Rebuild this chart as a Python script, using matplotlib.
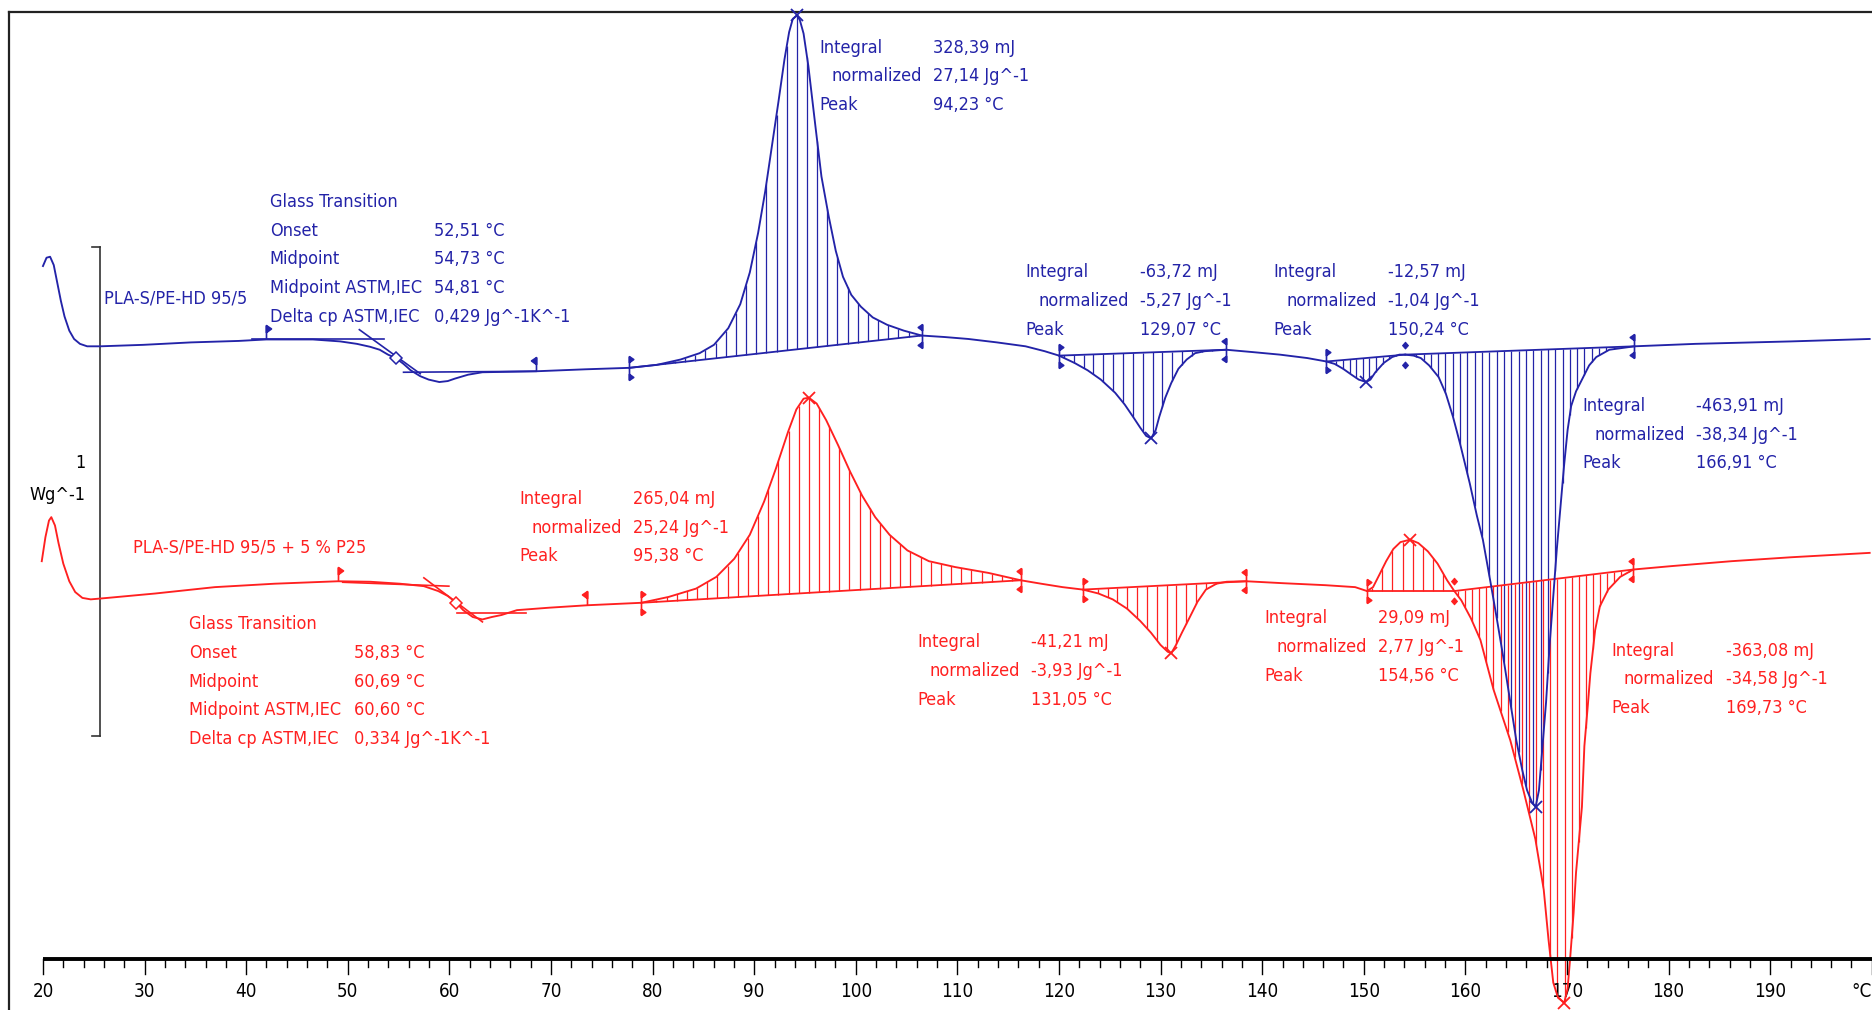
import numpy as np
import matplotlib
matplotlib.use("Agg")
import matplotlib.pyplot as plt
from matplotlib.path import Path
import matplotlib.font_manager as fm

# ---------------- data (temperature in °C, heat flow in W/g, offset curves) ----------------
blue_curve = [
    (20.0, 1.415), (20.35, 1.432), (20.7, 1.434), (21.06, 1.417), (21.41, 1.380), (21.76, 1.344),
    (22.12, 1.312), (22.59, 1.283), (23.06, 1.266), (23.64, 1.256), (24.35, 1.251), (25.64, 1.251),
    (29.87, 1.254), (34.57, 1.259), (39.27, 1.262), (41.98, 1.265), (46.56, 1.265), (49.26, 1.261),
    (50.9, 1.256), (52.2, 1.250), (53.14, 1.244), (53.96, 1.234), (54.73, 1.227), (55.49, 1.215),
    (56.19, 1.202), (57.13, 1.190), (57.96, 1.183), (59.01, 1.178), (59.84, 1.180), (60.54, 1.185),
    (61.84, 1.193), (63.25, 1.198), (68.53, 1.200), (73.35, 1.204), (77.70, 1.207), (80.40, 1.213),
    (82.75, 1.224), (84.63, 1.237), (86.04, 1.254), (87.45, 1.288), (88.63, 1.337), (89.57, 1.402),
    (90.39, 1.483), (91.09, 1.568), (91.68, 1.651), (92.39, 1.751), (92.98, 1.837), (93.44, 1.893),
    (93.80, 1.920), (94.23, 1.927), (94.5, 1.917), (94.86, 1.890), (95.33, 1.824), (96.03, 1.700),
    (96.62, 1.598), (97.33, 1.517), (98.03, 1.446), (98.74, 1.393), (99.56, 1.356), (100.5, 1.332),
    (101.67, 1.310), (103.08, 1.295), (104.73, 1.283), (106.49, 1.273), (108.72, 1.270), (111.07, 1.266),
    (113.89, 1.259), (116.71, 1.251), (118.59, 1.241), (120.0, 1.232), (121.53, 1.217), (122.82, 1.202),
    (124.12, 1.183), (125.53, 1.156), (126.47, 1.132), (127.29, 1.107), (127.99, 1.085), (128.58, 1.068),
    (129.07, 1.063), (129.52, 1.080), (129.87, 1.107), (130.46, 1.146), (131.05, 1.176), (131.75, 1.205),
    (132.57, 1.224), (133.40, 1.237), (134.34, 1.241), (136.45, 1.244), (139.16, 1.239), (141.74, 1.234),
    (144.44, 1.227), (146.32, 1.220), (147.14, 1.215), (147.97, 1.205), (148.79, 1.193), (149.50, 1.183),
    (150.24, 1.178), (150.65, 1.183), (151.14, 1.198), (151.96, 1.217), (152.79, 1.229), (153.5, 1.234),
    (154.08, 1.234), (154.9, 1.232), (155.61, 1.227), (156.43, 1.212), (157.37, 1.188), (158.08, 1.154),
    (158.78, 1.107), (159.49, 1.051), (160.43, 0.971), (161.13, 0.905), (161.72, 0.856), (162.54, 0.761),
    (163.13, 0.690), (163.72, 0.617), (164.42, 0.524), (165.01, 0.446), (165.60, 0.385), (166.07, 0.344),
    (166.54, 0.320), (166.91, 0.310), (167.24, 0.344), (167.59, 0.434), (167.94, 0.524), (168.29, 0.641),
    (168.65, 0.739), (169.0, 0.837), (169.36, 0.924), (169.71, 1.007), (170.06, 1.080), (170.41, 1.129),
    (170.89, 1.159), (171.59, 1.188), (172.18, 1.212), (172.88, 1.229), (174.17, 1.244), (176.64, 1.251),
    (182.63, 1.256), (192.03, 1.261), (199.79, 1.266),
]

red_curve = [
    (19.88, 0.812), (20.24, 0.861), (20.59, 0.895), (20.82, 0.902), (21.18, 0.885), (21.53, 0.849),
    (22.0, 0.807), (22.59, 0.771), (23.17, 0.749), (23.88, 0.737), (24.70, 0.734), (26.35, 0.737),
    (31.05, 0.746), (36.92, 0.759), (42.8, 0.766), (49.03, 0.771), (52.2, 0.770), (55.14, 0.766),
    (57.49, 0.761), (58.90, 0.751), (59.84, 0.741), (60.69, 0.727), (61.36, 0.712), (62.30, 0.698),
    (63.25, 0.693), (64.18, 0.698), (65.12, 0.702), (66.65, 0.712), (69.83, 0.717), (73.59, 0.722),
    (78.88, 0.727), (81.58, 0.739), (84.28, 0.756), (86.28, 0.780), (88.04, 0.817), (89.57, 0.866),
    (90.98, 0.934), (92.15, 1.002), (93.33, 1.076), (94.15, 1.122), (94.86, 1.144), (95.38, 1.146),
    (96.15, 1.134), (97.09, 1.100), (98.26, 1.049), (99.44, 0.995), (100.62, 0.946), (101.91, 0.902),
    (103.32, 0.866), (105.08, 0.834), (107.2, 0.812), (109.78, 0.800), (113.07, 0.788), (116.24, 0.773),
    (118.24, 0.766), (120.35, 0.759), (122.35, 0.754), (123.88, 0.746), (125.29, 0.734), (126.70, 0.715),
    (127.99, 0.690), (129.05, 0.666), (129.99, 0.641), (130.70, 0.627), (131.05, 0.624), (131.52, 0.641),
    (132.10, 0.666), (132.81, 0.695), (133.63, 0.729), (134.46, 0.754), (135.5, 0.766), (136.5, 0.770),
    (138.45, 0.771), (142.09, 0.767), (146.21, 0.763), (149.15, 0.759), (150.32, 0.751), (150.91, 0.759),
    (151.5, 0.783), (152.2, 0.812), (152.91, 0.837), (153.61, 0.851), (154.56, 0.856), (155.37, 0.849),
    (156.31, 0.832), (157.26, 0.807), (158.2, 0.773), (158.91, 0.751), (159.6, 0.732), (160.55, 0.695),
    (161.48, 0.651), (162.78, 0.549), (164.42, 0.446), (165.71, 0.344), (166.89, 0.244), (167.71, 0.141),
    (168.18, 0.039), (168.65, -0.049), (169.12, -0.080), (169.73, -0.090), (170.06, -0.061), (170.30, -0.002),
    (170.65, 0.093), (170.89, 0.176), (171.47, 0.310), (171.71, 0.434), (172.06, 0.520), (172.30, 0.583),
    (172.77, 0.671), (173.24, 0.720), (174.06, 0.754), (175.24, 0.780), (176.53, 0.795), (180.31, 0.802),
    (186.19, 0.812), (192.03, 0.820), (199.79, 0.829),
]

# integration limits (°C)
blue_integrals = [(77.70, 106.49), (120.0, 136.45), (146.32, 154.08), (154.08, 176.64)]
red_integrals = [(78.88, 116.24), (122.35, 138.45), (150.32, 158.91), (158.91, 176.53)]
blue_peaks = [94.23, 129.07, 150.24, 166.91]
red_peaks = [95.38, 131.05, 154.56, 169.73]

# glass transition evaluation limits and midpoints
blue_tg_limits = (41.98, 68.53)
red_tg_limits = (49.03, 73.59)
blue_tg_mid = 54.73
red_tg_mid = 60.69
# tangent constructions: (T start, hf start, T end, hf end)
blue_tg_tangents = [(40.56, 1.266, 53.61, 1.266), (51.14, 1.285, 57.13, 1.195), (55.49, 1.198, 68.53, 1.200)]
red_tg_tangents = [(49.5, 0.769, 59.95, 0.761), (57.49, 0.778, 63.25, 0.688), (60.78, 0.707, 67.59, 0.707)]

blue_name = "PLA-S/PE-HD 95/5"
red_name = "PLA-S/PE-HD 95/5 + 5 % P25"

tg_labels = ["Glass Transition", "Onset", "Midpoint", "Midpoint ASTM,IEC", "Delta cp ASTM,IEC"]
blue_tg_values = ["", "52,51 °C", "54,73 °C", "54,81 °C", "0,429 Jg^-1K^-1"]
red_tg_values = ["", "58,83 °C", "60,69 °C", "60,60 °C", "0,334 Jg^-1K^-1"]

int_labels = ["Integral", "normalized", "Peak"]
blue_int_values = [
    ["328,39 mJ", "27,14 Jg^-1", "94,23 °C"],
    ["-63,72 mJ", "-5,27 Jg^-1", "129,07 °C"],
    ["-12,57 mJ", "-1,04 Jg^-1", "150,24 °C"],
    ["-463,91 mJ", "-38,34 Jg^-1", "166,91 °C"],
]
red_int_values = [
    ["265,04 mJ", "25,24 Jg^-1", "95,38 °C"],
    ["-41,21 mJ", "-3,93 Jg^-1", "131,05 °C"],
    ["29,09 mJ", "2,77 Jg^-1", "154,56 °C"],
    ["-363,08 mJ", "-34,58 Jg^-1", "169,73 °C"],
]

x_ticks_major = list(range(20, 200, 10))
x_ticks_minor = list(range(20, 201, 2))
scale_bar = 1.0  # W/g
scale_unit = "Wg^-1"

# ---------------- style / layout ----------------
fonts = fm.fontManager.ttflist
STRETCH = "normal"
if any(f.name == "DejaVu Sans" and f.stretch in ("condensed", "semi-condensed") for f in fonts):
    FONT, FS, TFS, STRETCH = "DejaVu Sans", 13, 13.5, "condensed"
elif any(f.name == "Liberation Sans Narrow" for f in fonts):
    FONT, FS, TFS = "Liberation Sans Narrow", 15, 15
else:
    FONT, FS, TFS = "Liberation Sans", 13, 13.5
plt.rcParams["font.family"] = [FONT, "DejaVu Sans"]
plt.rcParams["font.stretch"] = STRETCH

BLUE = "#2323a8"
RED = "#ff2020"
PX_X = 10.16   # pixels per °C
PX_Y = 489.5   # pixels per W/g

fig = plt.figure(figsize=(18.72, 10.10), dpi=100)
ax = fig.add_axes([0, 0, 1, 1])
ax.set_xlim(15.77, 200.02)
ax.set_ylim(-0.1049, 1.9585)
ax.axis("off")


def flag_path(start, both):
    s = 1 if start else -1
    verts = [(0, -1 if both else 0), (0, 1), (0, 1), (0.36 * s, 0.76), (0, 0.5), (0, 1)]
    codes = [Path.MOVETO, Path.LINETO, Path.MOVETO, Path.LINETO, Path.LINETO, Path.CLOSEPOLY]
    if both:
        verts += [(0, -1), (0.36 * s, -0.76), (0, -0.5), (0, -1)]
        codes += [Path.MOVETO, Path.LINETO, Path.LINETO, Path.CLOSEPOLY]
    return Path(verts, codes)


def diamond_pair_path():
    verts, codes = [], []
    for cy in (0.75, -0.75):
        verts += [(0, cy + 0.25), (0.22, cy), (0, cy - 0.25), (-0.22, cy), (0, cy + 0.25)]
        codes += [Path.MOVETO, Path.LINETO, Path.LINETO, Path.LINETO, Path.CLOSEPOLY]
    return Path(verts, codes)


def draw_sample(curve, integrals, peaks, tg_limits, tg_mid, tangents, color, hatch_steps):
    arr = np.array(curve)
    T, hf = arr[:, 0], arr[:, 1]
    f = lambda t: np.interp(t, T, hf)
    # hatching of integrated areas
    for (t0, t1), step in zip(integrals, hatch_steps):
        y0, y1 = f(t0), f(t1)
        xs = np.arange(t0 + step * 0.5, t1, step)
        yb = y0 + (y1 - y0) * (xs - t0) / (t1 - t0)
        ax.vlines(xs, yb, f(xs), color=color, lw=0.9, zorder=2)
        ax.plot([t0, t1], [y0, y1], color=color, lw=1.3, zorder=3)
    # curve
    ax.plot(T, hf, color=color, lw=1.35, zorder=4, clip_on=False)
    # tangents of glass transition
    for (a, b, c, d) in tangents:
        ax.plot([a, c], [b, d], color=color, lw=1.2, zorder=3)
    ax.plot([tg_mid], [f(tg_mid)], marker="D", ms=6, mfc="white", mec=color, mew=1.1, zorder=5)
    # limit flags
    ax.plot([tg_limits[0]], [f(tg_limits[0])], marker=flag_path(True, False), ms=20,
            color=color, mew=1.2, zorder=5)
    ax.plot([tg_limits[1]], [f(tg_limits[1])], marker=flag_path(False, False), ms=20,
            color=color, mew=1.2, zorder=5)
    limits = sorted(set([t for pair in integrals for t in pair]))
    starts = [p[0] for p in integrals]
    ends = [p[1] for p in integrals]
    for t in limits:
        if t in starts and t in ends:
            ax.plot([t], [f(t)], marker=diamond_pair_path(), ms=19, color=color, mew=0.8, zorder=5)
        else:
            ax.plot([t], [f(t)], marker=flag_path(t in starts, True), ms=17, color=color,
                    mew=1.2, zorder=5)
    # peak crosses
    pk = np.array(peaks)
    ax.plot(pk, f(pk), "x", ms=9, mew=1.3, color=color, zorder=5, clip_on=False)


draw_sample(red_curve, red_integrals, red_peaks, red_tg_limits, red_tg_mid, red_tg_tangents, RED,
            [1.0, 0.97, 1.0, 0.7])
draw_sample(blue_curve, blue_integrals, blue_peaks, blue_tg_limits, blue_tg_mid, blue_tg_tangents, BLUE,
            [1.0, 0.97, 0.65, 0.72])

ROW = 24 * 1.194 / PX_Y  # row spacing in data units


def text_block(x, y, labels, values, color, val_dx, indent=None):
    for i, (lab, val) in enumerate(zip(labels, values)):
        dx = indent if (indent is not None and i == 1) else 0.0
        ax.text(x + dx, y - i * ROW, lab, color=color, fontsize=FS, ha="left", va="center")
        if val:
            ax.text(x + val_dx, y - i * ROW, val, color=color, fontsize=FS, ha="left", va="center")


# glass transition blocks
text_block(42.33, 1.546, tg_labels, blue_tg_values, BLUE, 16.2)
text_block(34.34, 0.683, tg_labels, red_tg_values, RED, 16.3)
# integral blocks
for (x, y), vals in zip([(96.38, 1.861), (116.71, 1.402), (141.15, 1.402), (171.47, 1.129)], blue_int_values):
    text_block(x, y, int_labels, vals, BLUE, 11.25, indent=1.25)
for (x, y), vals in zip([(66.89, 0.939), (106.02, 0.646), (140.21, 0.695), (174.41, 0.629)], red_int_values):
    text_block(x, y, int_labels, vals, RED, 11.2, indent=1.2)
# sample names
ax.text(25.99, 1.349, blue_name, color=BLUE, fontsize=FS, ha="left", va="center")
ax.text(28.86, 0.839, red_name, color=RED, fontsize=FS, ha="left", va="center")

# scale bar
sb_x, sb_y0 = 25.57, 0.454
ax.plot([sb_x, sb_x], [sb_y0, sb_y0 + scale_bar], color="#333333", lw=1.2)
for yy in (sb_y0, sb_y0 + scale_bar):
    ax.plot([sb_x - 8 / PX_X, sb_x], [yy, yy], color="#333333", lw=1.2)
ax.text(24.2, 1.012, f"{scale_bar:g}", fontsize=FS, ha="right", va="center", color="black")
ax.text(24.2, 0.947, scale_unit, fontsize=FS, ha="right", va="center", color="black")

# frame
ax.plot([16.65, 16.65], [-0.2, 1.934], color="#222222", lw=1.6, clip_on=False)
ax.plot([16.65, 201], [1.934, 1.934], color="#222222", lw=1.6, clip_on=False)

# temperature axis
ax.plot([20, 200], [0, 0], color="black", lw=2.8, solid_capstyle="butt", zorder=6, clip_on=False)
for t in x_ticks_minor:
    L = 15 if t % 10 == 0 else 8
    ax.plot([t, t], [0, -L / PX_Y], color="black", lw=1.0, zorder=6, clip_on=False)
for t in x_ticks_major:
    ax.text(t, -0.068, str(t), fontsize=TFS, ha="center", va="center", color="black")
ax.text(200.0, -0.068, "°C", fontsize=TFS, ha="right", va="center", color="black")

fig.savefig("out.png", dpi=100)
